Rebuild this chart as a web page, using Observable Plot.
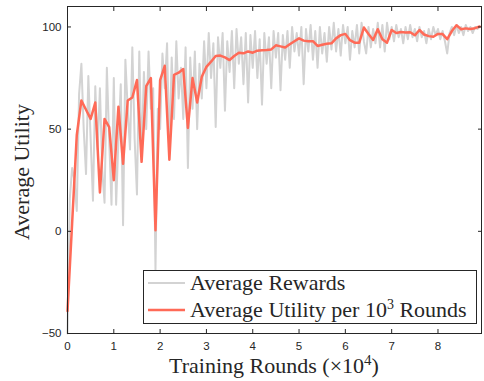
<!DOCTYPE html>
<html>
<head>
<meta charset="utf-8">
<script src="https://cdn.jsdelivr.net/npm/d3@7"></script>
<script src="https://cdn.jsdelivr.net/npm/@observablehq/plot@0.6"></script>
<style>
  html, body { margin: 0; padding: 0; background: #fff; }
  #chart { position: relative; width: 484px; height: 381px; }
</style>
</head>
<body>
<div id="chart"></div>
<script>
// Average Utility per 10^3 rounds (x step 0.1 ×10^4 rounds)
const utilityStep = 0.1;
const utility = [
  -39, 4, 47, 64, 59.5, 55, 63, 19, 55, 51,
  25, 61, 33, 64, 65.5, 74, 34, 71, 75, 0.5,
  74, 81, 35, 76.5, 77.6, 79.4, 50.6, 75, 63, 75.6,
  80.5, 83, 85.8, 86, 85.1, 83.8, 85.8, 87.4, 87.1, 88,
  87.4, 88.4, 88.6, 88.7, 89, 91, 90.5, 89.9, 91.5, 93,
  94.4, 93.3, 93, 93, 90.7, 91.3, 91.8, 92, 94.4, 96,
  96.6, 93.5, 92.3, 92.3, 99.7, 96.5, 93.6, 98.9, 94, 92.3,
  98.5, 97, 97.5, 97.3, 97.4, 95.9, 98.5, 96.3, 95.5, 95.2,
  96.6, 96.5, 94, 98, 100.8, 98.9, 99.3, 99, 99.4, 100.2
];

// Average Rewards (x step 0.05 ×10^4 rounds)
const rewardStep = 0.05;
const rewards = [
  -50, 16, 31, 25, 10, 67, 82, 50, 28, 76,
  45, 15, 71, 40, 70, 30, 14, 80, 45, 13,
  75, 13, 45, 72, 3, 84, 60, 40, 90, 45,
  18, 88, 35, 78, 50, 88, 60, 70, -19, 60,
  50, 87, 70, 92, 40, 85, 55, 93, 65, 80,
  55, 90, 31, 85, 60, 88, 50, 82, 65, 93,
  70, 97, 75, 92, 51, 95, 80, 97, 59, 93,
  78, 98, 70, 99, 82, 95, 72, 97, 63, 96,
  80, 98, 75, 94, 62, 97, 82, 95, 70, 98,
  85, 97, 69, 96, 84, 98, 80, 100, 88, 97,
  86, 100, 72, 99, 88, 101, 84, 98, 80, 100,
  87, 97, 83, 100, 89, 102, 88, 99, 86, 101,
  92, 100, 84, 98, 90, 101, 87, 102, 93, 87,
  100, 90, 99, 92, 102, 90, 101, 88, 102, 94,
  100, 93, 101, 95, 99, 92, 100, 94, 101, 95,
  99, 93, 100, 95, 98, 92, 99, 94, 100, 96,
  99, 94, 98, 93, 87, 97, 100, 96, 101, 97,
  100, 96, 101, 98, 100, 97, 100, 99, 100
];

const xTicks = [0, 1, 2, 3, 4, 5, 6, 7, 8];
const yTicks = [-50, 0, 50, 100];
const seriesNames = ["Average Rewards", "Average Utility per 10", "3", " Rounds"];

const utilData = utility.map((v, i) => ({x: +(i * utilityStep).toFixed(2), y: v}));
const rewardData = rewards.map((v, i) => ({x: +(i * rewardStep).toFixed(2), y: v}));

const gray = "#d3d3d3";
const red = "#ff6a57";
const ink = "#262626";

const plot = Plot.plot({
  width: 484,
  height: 381,
  marginLeft: 67,
  marginRight: 3,
  marginTop: 6,
  marginBottom: 48,
  style: {fontFamily: "'Liberation Sans', Arial, sans-serif", fontSize: "11.5px", color: ink, background: "#fff"},
  x: {domain: [0, 8.94]},
  y: {domain: [-50, 110]},
  marks: [
    Plot.line(rewardData, {x: "x", y: "y", stroke: gray, strokeWidth: 2}),
    Plot.line(utilData, {x: "x", y: "y", stroke: red, strokeWidth: 2.5}),
    Plot.frame({stroke: ink, strokeWidth: 1}),
    Plot.axisY({anchor: "left", ticks: yTicks, tickSize: -4, tickPadding: 10, label: null, stroke: ink, fill: ink}),
    Plot.axisY({anchor: "right", ticks: yTicks, tickSize: -4, tickFormat: () => "", label: null, stroke: ink}),
    Plot.axisX({anchor: "bottom", ticks: xTicks, tickSize: -4, tickPadding: 12, label: null, stroke: ink, fill: ink}),
    Plot.axisX({anchor: "top", ticks: xTicks, tickSize: -4, tickFormat: () => "", label: null, stroke: ink})
  ]
});

document.getElementById("chart").appendChild(plot);

const svg = d3.select(plot);
const serif = "'Liberation Serif', 'Times New Roman', serif";

// axis titles
const xt = svg.append("text")
  .attr("x", 274).attr("y", 373)
  .attr("text-anchor", "middle")
  .attr("font-family", serif).attr("font-size", 22).attr("fill", ink);
xt.append("tspan").text("Training Rounds (×10");
xt.append("tspan").attr("font-size", 15).attr("dy", -8).text("4");
xt.append("tspan").attr("dy", 8).text(")");

svg.append("text")
  .attr("transform", "translate(29,172) rotate(-90)")
  .attr("text-anchor", "middle")
  .attr("font-family", serif).attr("font-size", 22).attr("fill", ink)
  .text("Average Utility");

// legend
const lg = svg.append("g").attr("text-anchor", "start");
lg.append("rect")
  .attr("x", 143.5).attr("y", 270.5).attr("width", 333).attr("height", 53)
  .attr("fill", "#fff").attr("stroke", ink).attr("stroke-width", 1);
lg.append("line").attr("x1", 148).attr("x2", 185).attr("y1", 283).attr("y2", 283)
  .attr("stroke", gray).attr("stroke-width", 2);
lg.append("line").attr("x1", 148).attr("x2", 185).attr("y1", 310).attr("y2", 310)
  .attr("stroke", red).attr("stroke-width", 2.5);
lg.append("text").attr("x", 190).attr("y", 290)
  .attr("text-anchor", "start")
  .attr("font-family", serif).attr("font-size", 22).attr("fill", ink)
  .text(seriesNames[0]);
const t2 = lg.append("text").attr("x", 190).attr("y", 317)
  .attr("text-anchor", "start")
  .attr("font-family", serif).attr("font-size", 22).attr("fill", ink);
t2.append("tspan").text(seriesNames[1]);
t2.append("tspan").attr("font-size", 14).attr("dy", -8).text(seriesNames[2]);
t2.append("tspan").attr("dy", 8).text(seriesNames[3]);
</script>
</body>
</html>
